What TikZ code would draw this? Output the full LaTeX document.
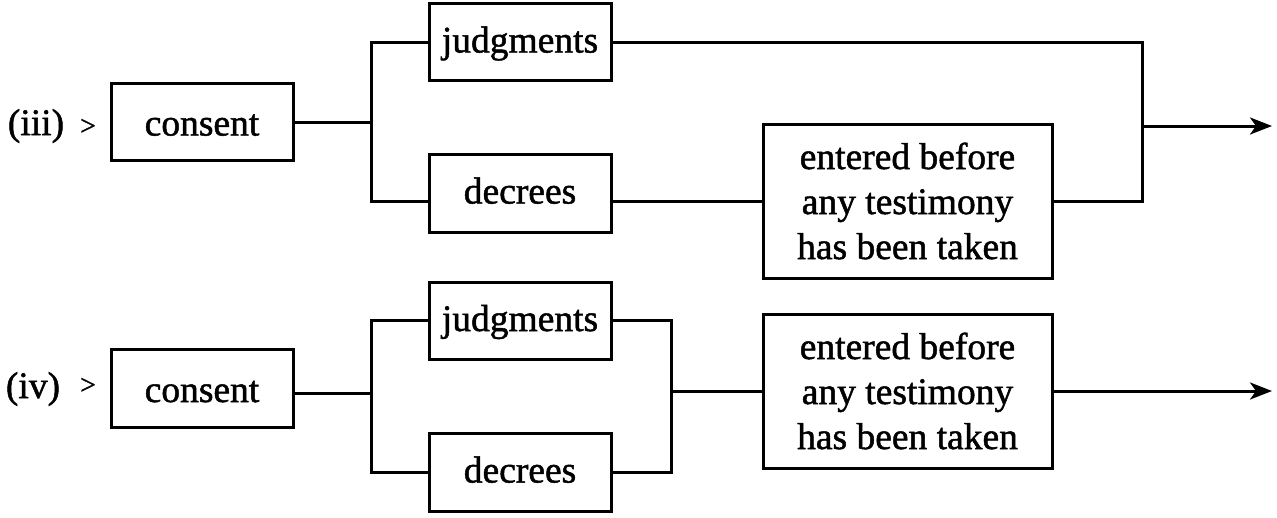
\documentclass[tikz,border=0pt]{standalone}
\usepackage{fontspec}
\setmainfont{Liberation Serif}[FakeBold=1.3]
\usetikzlibrary{arrows.meta}
\begin{document}
\begin{tikzpicture}[x=1pt,y=-1pt,
  line width=3pt,
  txt/.style={font=\fontsize{37.5}{45}\selectfont, inner sep=0pt},
  box/.style={draw, txt, line width=3pt, minimum width=182pt, minimum height=77pt,
    text height=28pt, text depth=7pt},
  consentbox/.style={box, minimum height=77pt, text height=30pt, text depth=2pt},
  bigbox/.style={draw, txt, line width=3pt, minimum width=289pt, minimum height=154pt, align=center},
  gt/.style={font=\fontsize{28}{30}\selectfont, inner sep=0pt},
  arr/.style={-{Stealth[length=22pt,width=17pt,inset=6pt]}}]
\useasboundingbox (0,0) rectangle (1277,517);
% row (iii)
\node[txt] (l1) at (36,126) {(iii)};
\node[gt] (g1) at (88,127) {>};
\node[consentbox] (c1) at (202,121.5) {consent};
\node[box] (j1) at (520,42) {judgments};
\node[box, minimum height=78pt] (d1) at (520,193) {decrees};
\node[bigbox] (e1) at (907.5,201) {entered before\\any testimony\\has been taken};
\coordinate (b1) at (371,122);
\coordinate (m1) at (1142,126);
\coordinate (t1) at (1272,126);
\draw (c1.east |- b1) -- (b1);
\draw (j1.west) -| (b1) |- ([yshift=-8pt]d1.west);
\draw ([yshift=-8pt]d1.east) -- (e1.west);
\draw (j1.east) -| (m1) |- (e1.east);
\draw[arr] (m1) -- (t1);
% row (iv)
\node[txt] (l2) at (33,389) {(iv)};
\node[gt] (g2) at (88,386) {>};
\node[consentbox, minimum height=78pt] (c2) at (202,388) {consent};
\node[box] (j2) at (520,320.5) {judgments};
\node[box, minimum height=78pt] (d2) at (520,472) {decrees};
\node[bigbox] (e2) at (907.5,391) {entered before\\any testimony\\has been taken};
\coordinate (b2) at (371,393);
\coordinate (m2) at (671,391);
\coordinate (t2) at (1272,391);
\draw (c2.east |- b2) -- (b2);
\draw (j2.west) -| (b2) |- (d2.west);
\draw (j2.east) -| (m2) |- (d2.east);
\draw (m2) -- (e2.west);
\draw[arr] (e2.east) -- (t2);
\end{tikzpicture}
\end{document}
